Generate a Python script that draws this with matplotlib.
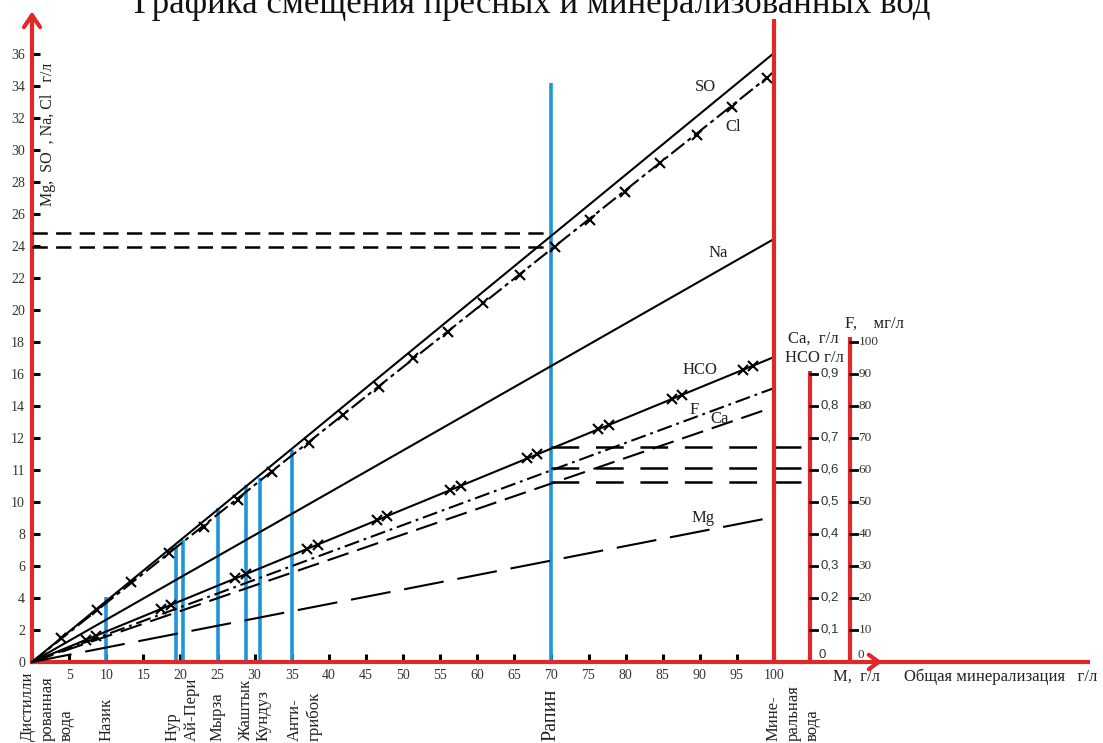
import matplotlib.pyplot as plt

plt.rcParams['font.family'] = ['Liberation Serif', 'DejaVu Serif']
plt.rcParams['lines.scale_dashes'] = False

RED = '#e0282b'
BLUE = '#1c96d8'

# -----------------------------
# Data
# -----------------------------
# left scale: labels sit on equally spaced divisions (one division = 1 unit of the drawing)
y_tick_labels = ['0', '2', '4', '6', '8', '10', '11', '12', '14', '16',
                 '18', '20', '22', '24', '26', '28', '30', '32', '34', '36']
x_ticks = [5, 10, 15, 20, 25, 30, 35, 40, 45, 50, 55, 60, 65, 70, 75, 80, 85, 90, 95, 100]

# ion lines: straight from the origin to the end point (end level in left-scale divisions)
ion_names = ['SO', 'Cl', 'Na', 'HCO', 'F', 'Ca', 'Mg']
ion_x_end = [100, 99.0, 100, 100, 100, 98.8, 100]
ion_y_end = [19.03, 18.25, 13.22, 9.53, 8.56, 7.875, 4.53]

# crosses on Cl line
cl_cross_x = [3.9, 8.7, 13.3, 18.4, 23.2, 27.7, 32.4, 37.3, 41.9, 46.7, 51.4,
              56.1, 60.8, 65.8, 70.5, 75.2, 79.9, 84.7, 89.6, 94.3, 99.0]
cl_cross_y = [0.75, 1.63, 2.50, 3.41, 4.22, 5.06, 5.94, 6.84, 7.72, 8.59, 9.50,
              10.31, 11.22, 12.09, 12.97, 13.81, 14.69, 15.59, 16.47, 17.34, 18.25]

# pairs of crosses on HCO line
hco_cross_x = [7.3, 8.6, 17.4, 18.7, 27.4, 28.8, 37.1, 38.5, 46.5, 47.9,
               56.4, 57.8, 66.7, 68.1, 76.3, 77.7, 86.2, 87.6, 95.8, 97.2]
hco_cross_y = [0.70, 0.82, 1.66, 1.78, 2.61, 2.74, 3.54, 3.67, 4.43, 4.56,
               5.37, 5.51, 6.36, 6.49, 7.27, 7.40, 8.21, 8.35, 9.13, 9.26]

# water samples (blue verticals)
sample_x = [10, 19.4, 20.4, 25, 28.9, 30.7, 35, 70]
sample_top = [2.03, 3.66, 3.81, 4.81, 5.53, 5.75, 6.63, 18.1]

# names under the M axis (one entry per column of rotated text)
bottom_labels = [['Дистилли', 'рованная', 'вода'], ['Назик'], ['Нур', 'Ай-Пери'],
                 ['Мырза'], ['Жаштык'], ['Кундуз'], ['Анти-', 'грибок'], ['Рапин'],
                 ['Мине-', 'ральная', 'вода']]
bottom_label_x = [-0.5, 10, 18.9, 25, 28.9, 31.2, 35.4, 70, 100]
bottom_label_size = [12, 12, 12, 12, 12, 12, 12, 14.5, 12]

# projections at Рапин (x = 70)
rapin_x = 70
rapin_left_levels = [13.4, 12.97]          # SO, Cl -> left scale
rapin_right_levels = [6.72, 6.06, 5.63]    # HCO, F, Ca -> Ca/HCO scale

# extra scales on the right
ca_ticks = [0.1, 0.2, 0.3, 0.4, 0.5, 0.6, 0.7, 0.8, 0.9]
ca_labels = ['0,1', '0,2', '0,3', '0,4', '0,5', '0,6', '0,7', '0,8', '0,9']
f_ticks = [10, 20, 30, 40, 50, 60, 70, 80, 90, 100]

# -----------------------------
# Layout (pixel -> drawing units)
# -----------------------------
X0, XS = 32, 7.42     # px of x = 0, px per unit
Y0, YS = 662, 32      # px of y = 0, px per division
W, H = 1103, 743
col_step = 2.6        # spacing between columns of rotated text

fig = plt.figure(figsize=(W / 100, H / 100), dpi=100)
ax = fig.add_axes([0, 0, 1, 1])
ax.set_xlim(-X0 / XS, (W - X0) / XS)
ax.set_ylim(-(H - Y0) / YS, Y0 / YS)

ca_axis_x = 104.85
f_axis_x = 110.2

# main axes as spines
for s in ['top', 'right']:
    ax.spines[s].set_visible(False)
for s in ['left', 'bottom']:
    ax.spines[s].set_position(('data', 0))
    ax.spines[s].set_color(RED)
    ax.spines[s].set_linewidth(3)
ax.spines['left'].set_bounds(0, 20.2)
ax.spines['bottom'].set_bounds(0, 142.3)

ax.set_yticks(range(len(y_tick_labels)), y_tick_labels)
ax.set_xticks(x_ticks, [str(v) for v in x_ticks])
ax.tick_params(direction='in', length=6, width=2.2, color='black',
               labelsize=10, labelcolor='#333333', pad=5)

# arrows
ax.annotate('', xy=(0, 20.33), xytext=(0, 19.6),
            arrowprops=dict(arrowstyle='->,head_length=0.43,head_width=0.29',
                            color=RED, lw=3, mutation_scale=20, shrinkA=0, shrinkB=0))
ax.annotate('', xy=(114.6, 0), xytext=(113.0, 0),
            arrowprops=dict(arrowstyle='->,head_length=0.36,head_width=0.26',
                            color=RED, lw=3, mutation_scale=20, shrinkA=0, shrinkB=0))

# red verticals: mineral water line and the two extra scales
ax.vlines(100, 0, 20.1, color=RED, lw=3, zorder=4)
ax.vlines(ca_axis_x, 0, 9.1, color=RED, lw=3, zorder=4)
ax.vlines(f_axis_x, 0, 10.15, color=RED, lw=3, zorder=4)

for v, lab in zip(ca_ticks, ca_labels):
    ax.plot([ca_axis_x, ca_axis_x + 1.0], [v * 10, v * 10], color='black', lw=2, zorder=5)
    ax.text(ca_axis_x + 1.4, v * 10, lab, family='Liberation Sans', fontsize=9.5,
            color='#333333', ha='left', va='center')
for v in f_ticks:
    ax.plot([f_axis_x, f_axis_x + 1.0], [v / 10, v / 10], color='black', lw=2, zorder=5)
    ax.text(f_axis_x + 1.2, v / 10, str(v), fontsize=9.5, color='#333333',
            ha='left', va='center')
ax.text(ca_axis_x + 1.1, 0.22, '0', family='Liberation Sans', fontsize=9.5,
        color='#333333', ha='left', va='center')
ax.text(f_axis_x + 1.1, 0.22, '0', fontsize=9.5, color='#333333', ha='left', va='center')

# blue sample lines
ax.vlines(sample_x, 0, sample_top, color=BLUE, lw=2.6, zorder=2)

# ion lines
styles = {
    'SO': dict(ls='-'),
    'Cl': dict(ls=(0, (12, 3, 3, 3))),
    'Na': dict(ls='-'),
    'HCO': dict(ls='-'),
    'F': dict(ls=(0, (11, 3.5, 2, 3.5))),
    'Ca': dict(ls=(0, (16, 6.5))),
    'Mg': dict(ls=(0, (29, 10))),
}
for name, xe, ye in zip(ion_names, ion_x_end, ion_y_end):
    ax.plot([0, xe], [0, ye], color='black', lw=1.5, zorder=3, **styles[name])

ax.plot(cl_cross_x, cl_cross_y, ls='none', marker='x', ms=7, mew=1.5,
        color='black', zorder=3)
ax.plot(hco_cross_x, hco_cross_y, ls='none', marker='x', ms=7, mew=1.5,
        color='black', zorder=3)

# projections at Рапин
ax.hlines(rapin_left_levels, 0, rapin_x, color='black', lw=1.8,
          linestyles=[(0, (11, 6))], zorder=3)
ax.hlines(rapin_right_levels, rapin_x, ca_axis_x, color='black', lw=1.8,
          linestyles=[(0, (20, 12))], zorder=3)

# line labels
label_pos = {
    'SO': (90.7, 17.97), 'Cl': (94.5, 16.72), 'Na': (92.5, 12.78),
    'HCO': (90.0, 9.12), 'F': (89.2, 7.875), 'Ca': (92.7, 7.6), 'Mg': (90.4, 4.5),
}
for name in ion_names:
    lx, ly = label_pos[name]
    ax.text(lx, ly, name, fontsize=12, ha='center', va='center', color='#222222')

# axis captions
ax.text(2.2, 16.5, 'Mg,  SO  , Na, Cl   г/л', rotation=90, fontsize=11.5,
        ha='center', va='center', color='#222222')
ax.text(101.9, 10.12, 'Ca,  г/л', fontsize=12, ha='left', va='center', color='#222222')
ax.text(101.5, 9.5, 'HCO г/л', fontsize=12, ha='left', va='center', color='#222222')
ax.text(109.6, 10.56, 'F,    мг/л', fontsize=12, ha='left', va='center', color='#222222')
ax.text(107.9, -0.47, 'M,  г/л', fontsize=12, ha='left', va='center', color='#222222')
ax.text(117.5, -0.47, 'Общая минерализация   г/л', fontsize=12, ha='left',
        va='center', color='#222222')

# sample names under the axis, each line as its own rotated column
for lines, lx, fs in zip(bottom_labels, bottom_label_x, bottom_label_size):
    for i, word in enumerate(lines):
        ax.text(lx + i * col_step, -2.47, word, rotation=90, fontsize=fs,
                ha='center', va='bottom', color='#222222')

fig.text(0.4825, 1 - 13 / H, 'Графика смещения пресных и минерализованных вод',
         fontsize=25, ha='center', va='baseline', color='#111111')

fig.savefig('out.png', dpi=100)
